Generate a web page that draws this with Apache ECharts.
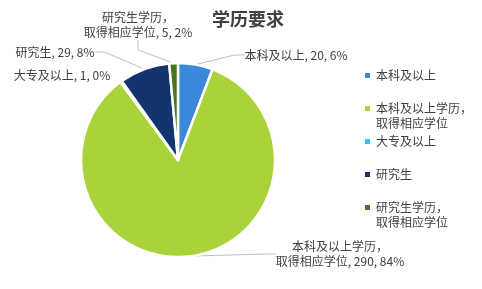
<!DOCTYPE html>
<html>
<head>
<meta charset="utf-8">
<script src="https://cdn.jsdelivr.net/npm/echarts@6/dist/echarts.min.js"></script>
<style>html,body{margin:0;padding:0;background:#fff;}#c{width:482px;height:289px;}</style>
</head>
<body>
<div id="c"></div>
<script>
var title = '学历要求';
var categories = ['本科及以上', '本科及以上学历，\n取得相应学位', '大专及以上', '研究生', '研究生学历，\n取得相应学位'];
var values = [20, 290, 1, 29, 5];
var colors = ['#3A87DB', '#A8D43A', '#2EC5E6', '#12356F', '#4B7420'];

var labelPos = [[296, 55], [340, 254], [62, 75], [55, 52], [138, 25]];
var font = '"Noto Sans CJK SC", "Microsoft YaHei", sans-serif';

var chart = echarts.init(document.getElementById('c'), null, {renderer: 'canvas'});
chart.setOption({
  animation: false,
  backgroundColor: '#fff',
  color: colors,
  title: {
    text: title, left: 243, top: 5, textAlign: 'center',
    textStyle: {fontSize: 18, fontWeight: 'bold', color: '#404040', fontFamily: font}
  },
  legend: {
    orient: 'vertical', left: 358, top: 63, itemGap: 3,
    itemWidth: 7, itemHeight: 22,
    icon: 'path://M0 0H7V7H0Z M0 22',
    textStyle: {fontSize: 12, color: '#404040', fontFamily: font, lineHeight: 15},
    formatter: function (n) { return n.indexOf('\n') >= 0 ? n : n + '\n '; },
    data: categories
  },
  series: [{
    type: 'pie',
    center: [178, 160],
    radius: 97,
    startAngle: 90,
    clockwise: true,
    percentPrecision: 0,
    avoidLabelOverlap: false,
    itemStyle: {borderColor: '#fff', borderWidth: 2.5},
    label: {
      show: true, formatter: '{b}, {c}, {d}%',
      fontSize: 12, color: '#404040', fontFamily: font, lineHeight: 15, align: 'center'
    },
    labelLine: {show: true, length: 10, length2: 10, lineStyle: {color: '#bfbfbf', width: 1}},
    labelLayout: function (p) {
      var pos = labelPos[p.dataIndex];
      return {x: pos[0], y: pos[1], align: 'center', verticalAlign: 'middle'};
    },
    data: categories.map(function (c, i) {
      var d = {name: c, value: values[i]};
      if (i === 2) d.labelLine = {show: false};
      return d;
    })
  }]
});
</script>
</body>
</html>
